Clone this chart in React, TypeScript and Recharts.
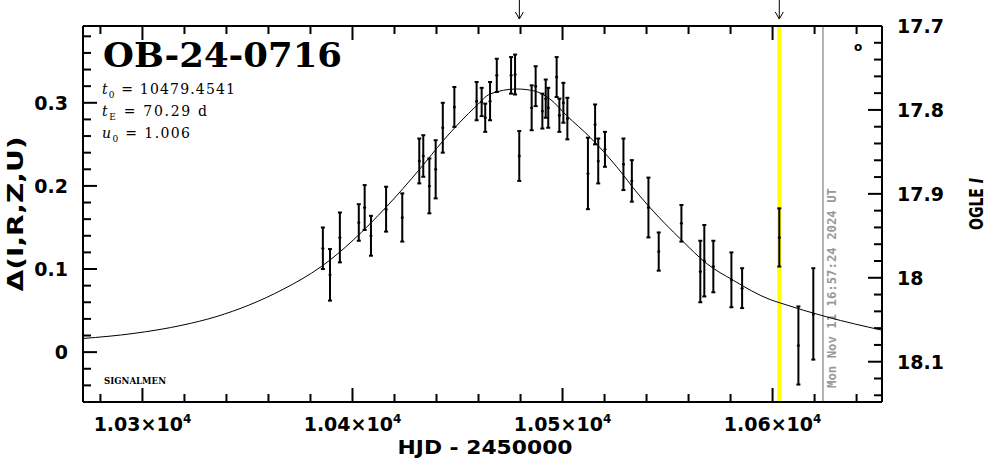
import { ComposedChart, XAxis, YAxis, Line, Scatter, ErrorBar, ReferenceLine } from 'recharts';

// OGLE photometry, HJD - 2450000
const hjd = [
  10385.9, 10389.3, 10394.0, 10403.0, 10405.8, 10408.8, 10416.0, 10423.7, 10431.8, 10433.7,
  10436.6, 10439.6, 10443.0, 10448.5, 10459.1, 10461.5, 10463.2, 10465.5, 10468.7, 10475.5,
  10477.4, 10479.4, 10485.3, 10487.2, 10490.4, 10492.0, 10493.2, 10497.2, 10498.5, 10500.4,
  10502.3, 10512.1, 10515.5, 10517.0, 10520.2, 10529.0, 10533.0, 10540.9, 10545.8, 10556.6,
  10565.6, 10567.5, 10571.8, 10580.4, 10585.5, 10603.2, 10612.3, 10619.4,
];
const delta = [
  0.125, 0.093, 0.138, 0.156, 0.174, 0.140, 0.172, 0.162, 0.230, 0.236,
  0.200, 0.220, 0.270, 0.295, 0.302, 0.301, 0.282, 0.302, 0.333, 0.333,
  0.334, 0.236, 0.294, 0.320, 0.290, 0.305, 0.294, 0.331, 0.285, 0.300,
  0.281, 0.215, 0.274, 0.230, 0.244, 0.226, 0.206, 0.174, 0.121, 0.155,
  0.097, 0.110, 0.103, 0.087, 0.077, 0.138, 0.008, 0.046,
];
const deltaErr = [
  0.025, 0.031, 0.030, 0.022, 0.027, 0.024, 0.027, 0.029, 0.027, 0.025,
  0.033, 0.035, 0.030, 0.024, 0.023, 0.017, 0.017, 0.023, 0.020, 0.022,
  0.024, 0.030, 0.027, 0.024, 0.021, 0.023, 0.024, 0.024, 0.020, 0.024,
  0.025, 0.043, 0.024, 0.027, 0.021, 0.031, 0.025, 0.036, 0.023, 0.022,
  0.037, 0.043, 0.031, 0.033, 0.024, 0.035, 0.047, 0.055,
];

// model curve
const modelHjd = [
  10271.7, 10295.5, 10319.3, 10335.0, 10351.0, 10366.9, 10385.1, 10416.0, 10432.1,
  10443.2, 10459.1, 10465.5, 10478.2, 10486.1, 10494.0, 10502.0, 10513.1, 10525.8, 10536.1,
  10540.9, 10556.8, 10568.7, 10581.3, 10598.8, 10603.6, 10625.8, 10652.1,
];
const modelDelta = [
  0.0164, 0.0224, 0.0326, 0.0426, 0.0569, 0.0755, 0.1029, 0.1744, 0.2205,
  0.2545, 0.2965, 0.3106, 0.3166, 0.3145, 0.3046, 0.2845, 0.2585, 0.2230, 0.1900,
  0.1760, 0.1345, 0.1065, 0.0864, 0.0633, 0.0592, 0.0424, 0.0264,
];

const xMajor = [10300, 10400, 10500, 10600];
const xMinor = [10280, 10320, 10340, 10360, 10380, 10420, 10440, 10460, 10480, 10520, 10540, 10560, 10580, 10620, 10640];
const yMajor = [0, 0.1, 0.2, 0.3];
const yMinor = [-0.04, -0.02, 0.02, 0.04, 0.06, 0.08, 0.12, 0.14, 0.16, 0.18, 0.22, 0.24, 0.26, 0.28, 0.32, 0.34, 0.36, 0.38];
const magMajor = [17.7, 17.8, 17.9, 18, 18.1];
const magMinor = [17.72, 17.74, 17.76, 17.78, 17.82, 17.84, 17.86, 17.88, 17.92, 17.94, 17.96, 17.98, 18.02, 18.04, 18.06, 18.08, 18.12, 18.14];

const t0 = 10479.4541;
const nowHjd = 10603.2;
const lastObs = 10624.0;
const arrows = [t0, nowHjd];
const dateText = 'Mon Nov 11 16:57:24 2024 UT';

const points = hjd.map((t, i) => ({ hjd: t, delta: delta[i], err: deltaErr[i] }));
const model = modelHjd.map((t, i) => ({ hjd: t, model: modelDelta[i] }));

const FONT = '"DejaVu Sans", sans-serif';
const SERIF = '"DejaVu Serif", serif';

function BottomTick({ x, y, payload }: any) {
  const v = payload.value;
  const major = xMajor.includes(v);
  return (
    <g>
      <line x1={x} x2={x} y1={y} y2={y - (major ? 14 : 8)} stroke="#000" strokeWidth={2} />
      {major && (
        <text x={x} y={y + 29} textAnchor="middle" fontFamily={FONT} fontWeight="bold" fontSize={19} fill="#000">
          {(v / 1e4).toFixed(2)}×10<tspan dy={-8} fontSize={12}>4</tspan>
        </text>
      )}
    </g>
  );
}

function TopTick({ x, y, payload }: any) {
  const v = payload.value;
  if (arrows.includes(v)) {
    return (
      <g stroke="#000" strokeWidth={1} fill="none">
        <line x1={x} x2={x} y1={y - 26} y2={y - 7} />
        <polyline points={`${x - 4},${y - 14} ${x},${y - 7} ${x + 4},${y - 14}`} />
      </g>
    );
  }
  const major = xMajor.includes(v);
  return <line x1={x} x2={x} y1={y} y2={y + (major ? 14 : 8)} stroke="#000" strokeWidth={2} />;
}

function LeftTick({ x, y, payload }: any) {
  const v = payload.value;
  const major = yMajor.includes(v);
  return (
    <g>
      <line x1={x} x2={x + (major ? 14 : 8)} y1={y} y2={y} stroke="#000" strokeWidth={2} />
      {major && (
        <text x={x - 15} y={y + 7} textAnchor="end" fontFamily={FONT} fontWeight="bold" fontSize={19} fill="#000">
          {String(v)}
        </text>
      )}
    </g>
  );
}

function RightTick({ x, y, payload }: any) {
  const v = payload.value;
  const major = magMajor.includes(v);
  return (
    <g>
      <line x1={x} x2={x - (major ? 14 : 8)} y1={y} y2={y} stroke="#000" strokeWidth={2} />
      {major && (
        <text x={x + 15} y={y + 7} textAnchor="start" fontFamily={FONT} fontWeight="bold" fontSize={19} fill="#000">
          {String(v)}
        </text>
      )}
    </g>
  );
}

function DateLabel({ viewBox }: any) {
  const tx = viewBox.x + 13;
  const ty = viewBox.y + viewBox.height - 14;
  return (
    <text
      transform={`translate(${tx},${ty}) rotate(-90)`}
      textAnchor="start"
      fontFamily='"DejaVu Sans Mono", monospace'
      fontWeight="bold"
      fontSize={12}
      fill="#999"
      textLength={200}
      lengthAdjust="spacingAndGlyphs"
    >
      {dateText}
    </text>
  );
}

function PointDot({ cx, cy }: any) {
  return <circle cx={cx} cy={cy} r={1.5} fill="#000" />;
}

const frame = { stroke: '#000', strokeWidth: 2 };

export default function App() {
  return (
    <div style={{ position: 'absolute', left: 0, top: 0, width: 986, height: 459, background: '#fff' }}>
      <ComposedChart width={986} height={459} margin={{ top: 0, right: 0, bottom: 0, left: 0 }}>
        <XAxis
          xAxisId="b"
          orientation="bottom"
          type="number"
          dataKey="hjd"
          domain={[10271.7, 10652.1]}
          allowDataOverflow
          ticks={[...xMajor, ...xMinor].sort((a, b) => a - b)}
          interval={0}
          tickSize={0}
          tickMargin={0}
          tickLine={false}
          axisLine={frame}
          height={57}
          tick={BottomTick}
        />
        <XAxis
          xAxisId="t"
          orientation="top"
          type="number"
          dataKey="hjd"
          domain={[10271.7, 10652.1]}
          allowDataOverflow
          ticks={[...xMajor, ...xMinor, ...arrows].sort((a, b) => a - b)}
          interval={0}
          tickSize={0}
          tickMargin={0}
          tickLine={false}
          axisLine={frame}
          height={26}
          tick={TopTick}
        />
        <YAxis
          yAxisId="d"
          orientation="left"
          type="number"
          domain={[-0.06, 0.3924]}
          allowDataOverflow
          ticks={[...yMajor, ...yMinor].sort((a, b) => a - b)}
          interval={0}
          tickSize={0}
          tickMargin={0}
          tickLine={false}
          axisLine={frame}
          width={83}
          tick={LeftTick}
        />
        <YAxis
          yAxisId="m"
          orientation="right"
          type="number"
          domain={[17.7, 18.148]}
          reversed
          allowDataOverflow
          ticks={[...magMajor, ...magMinor].sort((a, b) => a - b)}
          interval={0}
          tickSize={0}
          tickMargin={0}
          tickLine={false}
          axisLine={frame}
          width={104}
          tick={RightTick}
        />
        <ReferenceLine xAxisId="b" yAxisId="d" x={nowHjd} stroke="#ffff00" strokeWidth={4} />
        <ReferenceLine xAxisId="b" yAxisId="d" x={lastObs} stroke="#999" strokeWidth={1.5} label={DateLabel} />
        <Line
          xAxisId="b"
          yAxisId="d"
          data={model}
          dataKey="model"
          type="monotone"
          dot={false}
          stroke="#000"
          strokeWidth={1}
          isAnimationActive={false}
        />
        <Scatter xAxisId="b" yAxisId="d" data={points} dataKey="delta" shape={PointDot} isAnimationActive={false}>
          <ErrorBar dataKey="err" direction="y" width={2} strokeWidth={2} stroke="#000" isAnimationActive={false} />
        </Scatter>
      </ComposedChart>
      <svg width={986} height={459} style={{ position: 'absolute', left: 0, top: 0, pointerEvents: 'none' }}>
        <text x={103} y={67} fontFamily={SERIF} fontWeight="bold" fontSize={34} textLength={239} lengthAdjust="spacingAndGlyphs">
          OB-24-0716
        </text>
        <text x={102} y={94} fontFamily={SERIF} fontSize={14} textLength={133} lengthAdjust="spacing">
          <tspan fontStyle="italic">t</tspan>
          <tspan dy={4} fontSize={9}>0</tspan>
          <tspan dy={-4}> = 10479.4541</tspan>
        </text>
        <text x={102} y={116} fontFamily={SERIF} fontSize={14} textLength={105} lengthAdjust="spacing">
          <tspan fontStyle="italic">t</tspan>
          <tspan dy={4} fontSize={9}>E</tspan>
          <tspan dy={-4}> = 70.29 d</tspan>
        </text>
        <text x={102} y={138} fontFamily={SERIF} fontSize={14} textLength={88} lengthAdjust="spacing">
          <tspan fontStyle="italic">u</tspan>
          <tspan dy={4} fontSize={9}>0</tspan>
          <tspan dy={-4}> = 1.006</tspan>
        </text>
        <text x={104} y={384} fontFamily={SERIF} fontWeight="bold" fontSize={10} textLength={62} lengthAdjust="spacingAndGlyphs">
          SIGNALMEN
        </text>
        <text x={858} y={51} textAnchor="middle" fontFamily={FONT} fontWeight="bold" fontSize={12}>
          o
        </text>
        <text
          transform="translate(23,214) rotate(-90)"
          textAnchor="middle"
          fontFamily={FONT}
          fontWeight="bold"
          fontSize={21}
          textLength={155}
          lengthAdjust="spacingAndGlyphs"
        >
          Δ(I,R,Z,U)
        </text>
        <text
          transform="translate(983,204) rotate(-90)"
          textAnchor="middle"
          fontFamily={FONT}
          fontWeight="bold"
          fontSize={19}
          textLength={52}
          lengthAdjust="spacingAndGlyphs"
        >
          OGLE <tspan fontStyle="italic">I</tspan>
        </text>
        <text x={485} y={454} textAnchor="middle" fontFamily={FONT} fontWeight="bold" fontSize={20} textLength={175} lengthAdjust="spacingAndGlyphs">
          HJD  -  2450000
        </text>
      </svg>
    </div>
  );
}
